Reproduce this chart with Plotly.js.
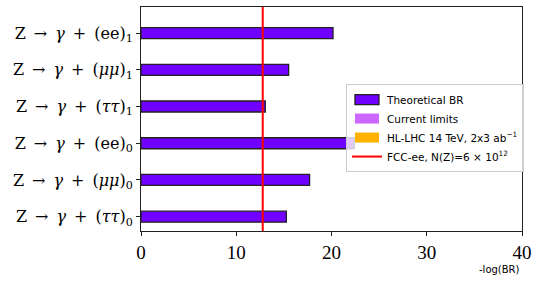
<!DOCTYPE html>
<html>
<head>
<meta charset="utf-8">
<script src="https://cdn.plot.ly/plotly-3.0.1.min.js"></script>
<style>html,body{margin:0;padding:0;background:#fff;}#chart{width:540px;height:282px;}</style>
</head>
<body>
<div id="chart"></div>
<script>
// Channels, bottom to top
const channels = [
  "Z\u2002→\u2002<i>γ</i>\u2002+\u2002(<i>ττ</i>)<sub>0</sub>",
  "Z\u2002→\u2002<i>γ</i>\u2002+\u2002(<i>μμ</i>)<sub>0</sub>",
  "Z\u2002→\u2002<i>γ</i>\u2002+\u2002(ee)<sub>0</sub>",
  "Z\u2002→\u2002<i>γ</i>\u2002+\u2002(<i>ττ</i>)<sub>1</sub>",
  "Z\u2002→\u2002<i>γ</i>\u2002+\u2002(<i>μμ</i>)<sub>1</sub>",
  "Z\u2002→\u2002<i>γ</i>\u2002+\u2002(ee)<sub>1</sub>"
];
const theoreticalBR = [15.26, 17.7, 22.4, 13.05, 15.5, 20.16];   // -log(BR)
const currentLimits = [null, null, null, null, null, null];
const hlLhc = [null, null, null, null, null, null];
const fccReach = 12.78;  // log10(6e12)
const xTicks = [0, 10, 20, 30, 40];

const pos = channels.map((c, i) => i);
const yRange = [-0.39, 5.71];

const traces = [
  {type: 'bar', orientation: 'h', name: 'Theoretical BR', x: theoreticalBR, y: pos, width: 0.3,
   marker: {color: '#7000ff', line: {color: '#222', width: 1.3}}},
  {type: 'bar', orientation: 'h', name: 'Current limits', x: currentLimits, y: pos, width: 0.3,
   marker: {color: '#cc66ff', line: {width: 0}}},
  {type: 'bar', orientation: 'h', name: 'HL-LHC 14 TeV, 2x3 ab<sup>−1</sup>', x: hlLhc, y: pos, width: 0.3,
   marker: {color: '#ffb300', line: {width: 0}}},
  {type: 'scatter', mode: 'lines', name: 'FCC-ee, N(Z)=6 × 10<sup>12</sup>',
   x: [fccReach, fccReach], y: yRange, line: {color: '#ff0000', width: 2}}
];

const layout = {
  width: 540, height: 282,
  margin: {l: 141, r: 18, t: 7, b: 51},
  paper_bgcolor: '#fff', plot_bgcolor: '#fff',
  barmode: 'overlay',
  showlegend: true,
  legend: {x: 0.538, y: 0.656, xanchor: 'left', yanchor: 'top',
    bgcolor: 'rgba(255,255,255,0.8)', bordercolor: '#cccccc', borderwidth: 1,
    font: {family: 'DejaVu Sans', size: 10.5, color: '#000'}, tracegroupgap: 0, itemwidth: 30},
  xaxis: {range: [0, 40], tickvals: xTicks, ticktext: xTicks.map(String), showgrid: false, zeroline: false,
    showline: true, linecolor: '#222', linewidth: 1, mirror: true,
    ticks: 'outside', ticklen: 4, tickcolor: '#222',
    tickfont: {family: 'Liberation Serif', size: 19, color: '#000'}},
  yaxis: {range: yRange, tickvals: pos, ticktext: channels, showgrid: false, zeroline: false,
    showline: true, linecolor: '#222', linewidth: 1, mirror: true,
    ticks: 'outside', ticklen: 4, tickcolor: '#222',
    tickfont: {family: 'DejaVu Serif', size: 16, color: '#000'}},
  annotations: [{text: '-log(BR)', xref: 'paper', yref: 'paper', x: 1, y: -0.174,
    xanchor: 'right', yanchor: 'middle', showarrow: false,
    font: {family: 'DejaVu Sans', size: 10, color: '#000'}}]
};

Plotly.newPlot('chart', traces, layout, {displayModeBar: false, staticPlot: true}).then(function (gd) {
  // widen the bar swatches in the legend to match the reference's rectangles
  gd.querySelectorAll('.legend .legendpoints path').forEach(function (p) {
    const d = p.getAttribute('d') || '';
    if (d.indexOf('M6,6H-6V-6H6Z') === 0) p.setAttribute('d', 'M12,5H-12V-5H12Z');
  });
});
</script>
</body>
</html>
